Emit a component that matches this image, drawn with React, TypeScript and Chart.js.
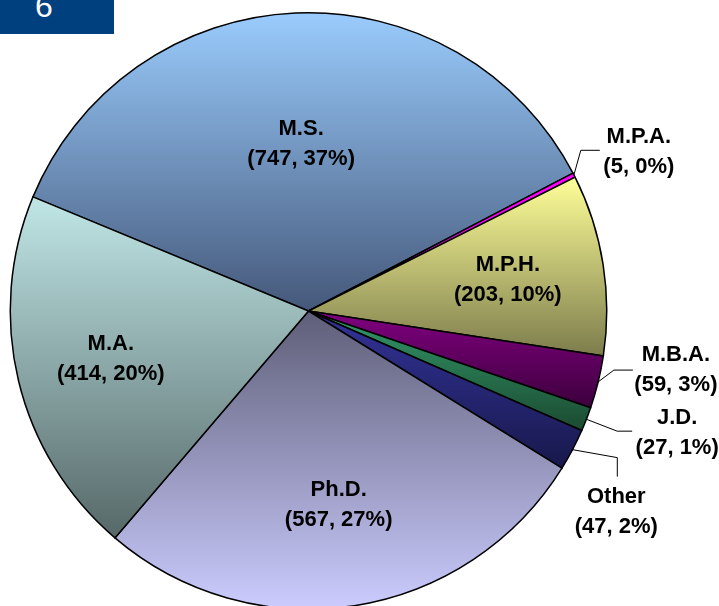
import React, { useEffect, useRef } from "react";
import { Chart, registerables } from "chart.js";

Chart.register(...registerables);

const categories = ["M.S.", "M.P.A.", "M.P.H.", "M.B.A.", "J.D.", "Other", "Ph.D.", "M.A."];
const counts = [747, 5, 203, 59, 27, 47, 567, 414];
const percentLabels = ["37%", "0%", "10%", "3%", "1%", "2%", "27%", "20%"];

// styles (not data)
const gradTop = ["#9ACCFD", "#FF00FF", "#FFFF99", "#800080", "#33996A", "#333399", "#5E5E78", "#C0E6E6"];
const gradBottom = ["#45587A", "#FF00FF", "#7C7C4C", "#3C003C", "#1A4A30", "#18184C", "#CCCCFF", "#566868"];
// inside labels: radius fraction; outside labels: offsets from arc edge
const labelStyle: any[] = [
  { inside: true, f: 0.56 },
  { inside: false, dx: 65, dy: -23, elbow: [-58, -2], end: [-39, -2] },
  { inside: true, f: 0.675 },
  { inside: false, dx: 78, dy: -12, elbow: [-62, 0], end: [-43, 0] },
  { inside: false, dx: 91, dy: 14, elbow: [-60, -2], end: [-45, -2] },
  { inside: false, dx: 44, dy: 62, elbow: [1, -54], end: [1, -35] },
  { inside: true, f: 0.655 },
  { inside: true, f: 0.68 },
];
const ROTATION = -67.5;
const FONT = "bold 22px 'Liberation Sans', Arial, sans-serif";

function sliceGeometry(chart: any, i: number) {
  const area = chart.chartArea;
  const cx = (area.left + area.right) / 2;
  const cy = (area.top + area.bottom) / 2;
  const r = Math.min(area.right - area.left, area.bottom - area.top) / 2;
  const total = counts.reduce((a, b) => a + b, 0);
  let cum = 0;
  for (let k = 0; k < i; k++) cum += counts[k];
  const a0 = ((ROTATION - 90) * Math.PI) / 180 + (cum / total) * 2 * Math.PI;
  const a1 = a0 + (counts[i] / total) * 2 * Math.PI;
  return { cx, cy, r, a0, a1 };
}

const labelPlugin = {
  id: "sliceLabels",
  afterDatasetsDraw(chart: any) {
    const ctx = chart.ctx;
    ctx.save();
    ctx.font = FONT;
    ctx.fillStyle = "#000";
    ctx.textAlign = "center";
    ctx.textBaseline = "middle";
    categories.forEach((name, i) => {
      const { cx, cy, r, a0, a1 } = sliceGeometry(chart, i);
      const mid = (a0 + a1) / 2;
      const st = labelStyle[i];
      const lines = [name, `(${counts[i]}, ${percentLabels[i]})`];
      let lx: number, ly: number;
      if (st.inside) {
        lx = cx + Math.cos(mid) * r * st.f;
        ly = cy + Math.sin(mid) * r * st.f;
      } else {
        const ex = cx + Math.cos(mid) * (r - 1);
        const ey = cy + Math.sin(mid) * (r - 1);
        lx = ex + st.dx;
        ly = ey + st.dy;
        ctx.beginPath();
        ctx.strokeStyle = "#000";
        ctx.lineWidth = 1;
        ctx.moveTo(ex, ey);
        ctx.lineTo(lx + st.elbow[0], ly + st.elbow[1]);
        ctx.lineTo(lx + st.end[0], ly + st.end[1]);
        ctx.stroke();
      }
      ctx.fillText(lines[0], lx, ly - 15);
      ctx.fillText(lines[1], lx, ly + 15);
    });
    ctx.restore();
  },
};

function gradientFor(context: any) {
  const chart = context.chart;
  const i = context.dataIndex;
  if (!chart.chartArea || i === undefined) return gradTop[i ?? 0];
  const { cx, cy, r, a0, a1 } = sliceGeometry(chart, i);
  const ys = [cy, cy + Math.sin(a0) * r, cy + Math.sin(a1) * r];
  for (let k = -4; k <= 8; k++) {
    const a = Math.PI / 2 + k * Math.PI;
    if (a > a0 && a < a1) ys.push(cy + Math.sin(a) * r);
  }
  const y0 = Math.min(...ys);
  const y1 = Math.max(...ys);
  const g = chart.ctx.createLinearGradient(0, y0, 0, Math.max(y1, y0 + 1));
  g.addColorStop(0, gradTop[i]);
  g.addColorStop(1, gradBottom[i]);
  return g;
}

export default function App() {
  const ref = useRef<HTMLCanvasElement | null>(null);
  useEffect(() => {
    if (!ref.current) return;
    const chart = new Chart(ref.current, {
      type: "pie",
      data: {
        labels: categories,
        datasets: [
          {
            data: counts,
            backgroundColor: gradientFor as any,
            borderColor: "#000",
            borderWidth: 1.5,
            borderJoinStyle: "miter" as any,
          },
        ],
      },
      options: {
        responsive: false,
        animation: false,
        rotation: ROTATION,
        layout: { padding: { left: 9, right: 111, top: 12, bottom: 10 } },
        plugins: { legend: { display: false }, tooltip: { enabled: false } },
      },
      plugins: [labelPlugin],
    });
    return () => chart.destroy();
  }, []);
  return (
    <div style={{ position: "absolute", left: 0, top: 0, width: 719, height: 606, overflow: "hidden", background: "#fff" }}>
      <canvas ref={ref} width={719} height={620} style={{ position: "absolute", left: 0, top: 0 }} />
      <div
        style={{
          position: "absolute",
          left: 0,
          top: 0,
          width: 114,
          height: 34,
          background: "#00407F",
          color: "#fff",
          fontFamily: "'Liberation Sans', Arial, sans-serif",
          fontSize: 32,
          lineHeight: "32px",
          overflow: "hidden",
        }}
      >
        <div style={{ position: "absolute", left: 35, top: -10 }}>6</div>
      </div>
    </div>
  );
}
